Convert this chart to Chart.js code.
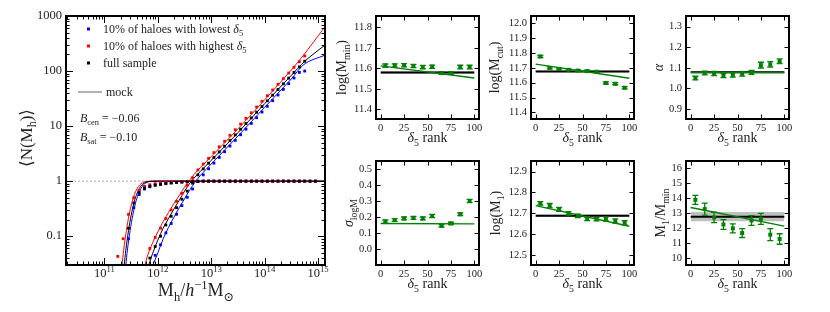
<!DOCTYPE html>
<html>
<head>
<meta charset="utf-8">
<script src="https://cdn.jsdelivr.net/npm/chart.js@4.4.1/dist/chart.umd.min.js"></script>
<style>
body { margin: 0; background: #fff; }
#wrap { position: relative; width: 830px; height: 312px; }
canvas { position: absolute; }
</style>
</head>
<body>
<div id="wrap"></div>
<script>
// ---- main panel: <N(M_h)> ----
const cenLogM = [11.25, 11.35, 11.45, 11.55, 11.65, 11.75, 11.85, 11.95, 12.05, 12.15,
    12.25, 12.35, 12.45, 12.55, 12.65, 12.75, 12.85, 12.95, 13.05, 13.15,
    13.25, 13.35, 13.45, 13.55, 13.65, 13.75, 13.85, 13.95, 14.05, 14.15,
    14.25, 14.35, 14.45, 14.55, 14.65, 14.75, 14.85, 14.95];
const cenHigh = [0.043, 0.09, 0.25, 0.5, 0.68, 0.8, 0.86, 0.9, 0.93, 0.95,
    0.965, 0.975, 0.985, 0.99, 1, 1, 1, 1, 1, 1,
    1, 1, 1, 1, 1, 1, 1, 1, 1, 1,
    1, 1, 1, 1, 1, 1, 1, 1];
const cenAll = [null, null, 0.14, 0.4, 0.62, 0.75, 0.81, 0.85, 0.88, 0.91,
    0.93, 0.95, 0.965, 0.975, 0.985, 0.99, 1, 1, 1, 1,
    1, 1, 1, 1, 1, 1, 1, 1, 1, 1,
    1, 1, 1, 1, 1, 1, 1, 1];
const cenLow = [null, null, 0.09, 0.33, 0.57, 0.72, 0.79, 0.84, 0.87, 0.9,
    0.93, 0.95, 0.96, 0.975, 0.985, 0.99, 1, 1, 1, 1,
    1, 1, 1, 1, 1, 1, 1, 1, 1, 1,
    1, 1, 1, 1, 1, 1, 1, 1];

const satLogM = [11.85, 11.95, 12.05, 12.15, 12.25, 12.35, 12.45, 12.55, 12.65, 12.75,
    12.85, 12.95, 13.05, 13.15, 13.25, 13.35, 13.45, 13.55, 13.65, 13.75,
    13.85, 13.95, 14.05, 14.15, 14.25, 14.35, 14.45, 14.55, 14.65, 14.75];
const satHigh = [0.06, 0.095, 0.14, 0.21, 0.3, 0.43, 0.6, 0.84, 1.15, 1.6,
    2.05, 2.6, 3.3, 4.2, 5.3, 6.8, 8.6, 10.9, 13.8, 17.5,
    22.2, 28.2, 35.7, 45.3, 57.4, 72.8, 92.3, 117, 148, 188];
const satAll = [0.04, 0.065, 0.1, 0.16, 0.23, 0.33, 0.47, 0.66, 0.92, 1.3,
    1.67, 2.12, 2.69, 3.4, 4.32, 5.47, 6.93, 8.79, 11.1, 14.1,
    17.9, 22.7, 28.8, 36.5, 46.2, 58.6, 74.3, 94.2, 119, 151];
const satLow = [null, 0.045, 0.07, 0.115, 0.17, 0.25, 0.36, 0.51, 0.72, 1.0,
    1.3, 1.68, 2.13, 2.7, 3.43, 4.34, 5.5, 6.97, 8.8, 11.2,
    14.2, 18, 22.9, 29, 36.7, 46.5, 59, 74.8, 94.5, 100];

// model curves
const cenFitAllM = [11.37, 11.40, 11.45, 11.50, 11.55, 11.60, 11.65, 11.70, 11.75, 11.80, 11.85, 11.90, 12.0, 15.13];
const cenFitAll = [0.03, 0.056, 0.126, 0.24, 0.395, 0.57, 0.73, 0.856, 0.933, 0.976, 0.992, 0.998, 1, 1];
const cenFitHighM = [11.33, 11.36, 11.41, 11.46, 11.51, 11.56, 11.61, 11.66, 11.71, 11.76, 11.81, 11.86, 11.96, 15.13];
const cenFitHigh = [0.03, 0.056, 0.126, 0.24, 0.395, 0.57, 0.73, 0.856, 0.933, 0.976, 0.992, 0.998, 1, 1];
const cenFitLowM = [11.40, 11.43, 11.48, 11.53, 11.58, 11.63, 11.68, 11.73, 11.78, 11.83, 11.88, 11.93, 12.03, 15.13];
const cenFitLow = [0.03, 0.056, 0.126, 0.24, 0.395, 0.57, 0.73, 0.856, 0.933, 0.976, 0.992, 0.998, 1, 1];

const satFitAllM = [11.83, 11.9, 12.0, 12.1, 12.2, 12.3, 12.4, 12.5, 12.6, 12.7, 12.8, 13.0, 13.5, 14.0, 14.5, 14.75, 15.13];
const satFitAll = [0.03, 0.048, 0.085, 0.14, 0.21, 0.31, 0.45, 0.66, 0.92, 1.2, 1.52, 2.39, 7.6, 25.6, 83.7, 150, 297];
const satFitHighM = [11.76, 11.8, 11.9, 12.0, 12.1, 12.2, 12.3, 12.4, 12.5, 12.6, 12.7, 12.8, 13.0, 13.5, 14.0, 14.5, 14.72, 15.13];
const satFitHigh = [0.03, 0.042, 0.075, 0.12, 0.185, 0.27, 0.39, 0.55, 0.78, 1.06, 1.4, 1.78, 2.8, 8.9, 30, 105, 190, 640];
const satFitLowM = [11.91, 12.0, 12.1, 12.2, 12.3, 12.4, 12.5, 12.6, 12.7, 12.8, 13.0, 13.5, 14.0, 14.5, 14.72, 15.13];
const satFitLow = [0.03, 0.05, 0.09, 0.145, 0.22, 0.33, 0.48, 0.70, 0.97, 1.28, 2.05, 6.6, 22, 72, 128, 195];

const mainXTicks = [11, 12, 13, 14, 15];
const mainYTicks = [0.1, 1, 10, 100, 1000];

// ---- small panels: HOD parameters vs delta_5 rank ----
const rank = [5, 15, 25, 35, 45, 55, 65, 75, 85, 95];
const rankTicks = [0, 25, 50, 75, 100];

const logMmin = [11.613, 11.614, 11.615, 11.611, 11.606, 11.608, 11.577, 11.577, 11.606, 11.606];
const logMminErr = [0.008, 0.008, 0.008, 0.008, 0.008, 0.008, 0.006, 0.006, 0.009, 0.009];
const logMcut = [11.777, 11.70, 11.693, 11.687, 11.682, 11.678, 11.674, 11.598, 11.593, 11.566];
const logMcutErr = [0.007, 0.007, 0.006, 0.006, 0.006, 0.006, 0.006, 0.007, 0.007, 0.008];
const alpha = [1.05, 1.075, 1.072, 1.062, 1.065, 1.07, 1.078, 1.113, 1.117, 1.132];
const alphaErr = [0.009, 0.009, 0.01, 0.01, 0.01, 0.01, 0.01, 0.014, 0.013, 0.011];
const sigma = [0.172, 0.182, 0.192, 0.195, 0.192, 0.207, 0.146, 0.161, 0.218, 0.301];
const sigmaErr = [0.01, 0.009, 0.009, 0.009, 0.009, 0.01, 0.008, 0.007, 0.008, 0.01];
const logM1 = [12.748, 12.737, 12.719, 12.70, 12.688, 12.673, 12.672, 12.673, 12.663, 12.655];
const logM1Err = [0.008, 0.01, 0.009, 0.008, 0.008, 0.008, 0.008, 0.01, 0.01, 0.01];
const ratio = [13.89, 13.27, 12.71, 12.24, 11.98, 11.67, 12.51, 12.62, 11.56, 11.27];
const ratioErr = [0.3, 0.4, 0.35, 0.33, 0.3, 0.3, 0.33, 0.37, 0.4, 0.35];

// linear fits (value at rank 0 and rank 100) and full-sample value with its band
const fitMmin = [11.612, 11.553];
const fitMcut = [11.725, 11.63];
const fitAlpha = [1.078, 1.078];
const fitSigma = [0.16, 0.158];
const fitM1 = [12.737, 12.638];
const fitRatio = [13.38, 12.13];
const refMmin = [11.58, 0.006];
const refMcut = [11.676, 0.006];
const refAlpha = [1.078, 0.006];
const refM1 = [12.688, 0.006];
const refRatio = [12.76, 0.31];

const FONT = '"Liberation Serif", "DejaVu Serif", serif';
const GREEN = '#008000';
const wrap = document.getElementById('wrap');

function pts(xs, ys) {
    return xs.map((x, i) => ({ x, y: ys[i] })).filter(p => p.y != null);
}

function makeCanvas(left, top, w, h) {
    const c = document.createElement('canvas');
    c.width = w;
    c.height = h;
    c.style.left = left + 'px';
    c.style.top = top + 'px';
    c.style.width = w + 'px';
    c.style.height = h + 'px';
    wrap.appendChild(c);
    return c;
}

// text with sub/superscripts: parts = [[text, mode(-1 sub, 1 sup), italic]]
function setFont(ctx, size, mode, it) {
    const s = mode ? size * 0.7 : size;
    ctx.font = (it ? 'italic ' : '') + s + 'px ' + FONT;
}
function richWidth(ctx, parts, size) {
    let w = 0;
    parts.forEach(p => {
        setFont(ctx, size, p[1], p[2]);
        w += ctx.measureText(p[0]).width;
    });
    return w;
}
function drawRich(ctx, parts, x, y, size, align) {
    const w = richWidth(ctx, parts, size);
    let cx = align === 'center' ? x - w / 2 : (align === 'right' ? x - w : x);
    ctx.textAlign = 'left';
    ctx.textBaseline = 'alphabetic';
    parts.forEach(p => {
        setFont(ctx, size, p[1], p[2]);
        const dy = p[1] === -1 ? size * 0.25 : (p[1] === 1 ? -size * 0.4 : 0);
        ctx.fillText(p[0], cx, y + dy);
        cx += ctx.measureText(p[0]).width;
    });
}
function drawRichRotated(ctx, parts, x, y, size) {
    ctx.save();
    ctx.translate(x, y);
    ctx.rotate(-Math.PI / 2);
    drawRich(ctx, parts, 0, 0, size, 'center');
    ctx.restore();
}

// inward ticks on all four sides + frame, error bars, extra text
function makeDeco(spec) {
    return {
        id: 'deco',
        beforeDatasetDraw(chart, args) {
            const ds = chart.data.datasets[args.index];
            if (!ds.errors) return;
            const { ctx } = chart;
            const ys = chart.scales.y;
            const meta = chart.getDatasetMeta(args.index);
            ctx.save();
            ctx.strokeStyle = ds.backgroundColor;
            ctx.lineWidth = 1.3;
            ctx.beginPath();
            meta.data.forEach((el, i) => {
                const v = ds.data[i].y;
                const e = ds.errors[i];
                const y0 = ys.getPixelForValue(v - e);
                const y1 = ys.getPixelForValue(v + e);
                ctx.moveTo(el.x, y0);
                ctx.lineTo(el.x, y1);
                ctx.moveTo(el.x - 3, y0);
                ctx.lineTo(el.x + 3, y0);
                ctx.moveTo(el.x - 3, y1);
                ctx.lineTo(el.x + 3, y1);
            });
            ctx.stroke();
            ctx.restore();
        },
        afterDraw(chart) {
            const { ctx, chartArea: a } = chart;
            const xs = chart.scales.x;
            const ys = chart.scales.y;
            ctx.save();
            ctx.strokeStyle = '#000';
            ctx.lineWidth = 1;
            ctx.beginPath();
            const xt = (vals, len) => vals.forEach(v => {
                const px = Math.round(xs.getPixelForValue(v)) + 0.5;
                if (px < a.left + 1 || px > a.right - 1) return;
                ctx.moveTo(px, a.bottom);
                ctx.lineTo(px, a.bottom - len);
                ctx.moveTo(px, a.top);
                ctx.lineTo(px, a.top + len);
            });
            const yt = (vals, len) => vals.forEach(v => {
                const py = Math.round(ys.getPixelForValue(v)) + 0.5;
                if (py < a.top + 1 || py > a.bottom - 1) return;
                ctx.moveTo(a.left, py);
                ctx.lineTo(a.left + len, py);
                ctx.moveTo(a.right, py);
                ctx.lineTo(a.right - len, py);
            });
            xt(spec.xMajor, spec.majLen);
            yt(spec.yMajor, spec.majLen);
            xt(spec.xMinor || [], spec.minLen);
            yt(spec.yMinor || [], spec.minLen);
            ctx.stroke();
            ctx.lineWidth = 2;
            ctx.strokeRect(a.left, a.top, a.right - a.left, a.bottom - a.top);
            ctx.fillStyle = '#222';
            if (spec.text) spec.text(chart, ctx, a);
            ctx.restore();
        }
    };
}

function setupChart(canvas, plot, datasets, xOpt, yOpt, spec) {
    const box = {
        left: parseFloat(canvas.style.left),
        top: parseFloat(canvas.style.top),
        w: canvas.width,
        h: canvas.height
    };
    return new Chart(canvas, {
        type: 'scatter',
        data: { datasets },
        options: {
            responsive: false,
            animation: false,
            events: [],
            layout: {
                autoPadding: false,
                padding: {
                    left: 0,
                    bottom: 0,
                    top: plot.top - box.top,
                    right: box.left + box.w - plot.right
                }
            },
            plugins: { legend: { display: false }, tooltip: { enabled: false } },
            scales: {
                x: Object.assign({
                    grid: { display: false, drawTicks: false },
                    border: { display: false },
                    afterFit: s => { s.height = box.top + box.h - plot.bottom; }
                }, xOpt),
                y: Object.assign({
                    grid: { display: false, drawTicks: false },
                    border: { display: false },
                    afterFit: s => { s.width = plot.left - box.left; }
                }, yOpt)
            }
        },
        plugins: [makeDeco(spec)]
    });
}

// ---------- main panel ----------
function logMinor(lo, hi) {
    const out = [];
    for (let n = lo; n <= hi; n++) {
        for (let k = 2; k <= 9; k++) out.push(n + Math.log10(k));
    }
    return out;
}
function linMinor(lo, hi) {
    const out = [];
    for (let n = lo; n <= hi; n++) {
        for (let k = 2; k <= 9; k++) out.push(k * Math.pow(10, n));
    }
    return out;
}

const mainCanvas = makeCanvas(0, 0, 335, 312);
const mainPlot = { left: 66, top: 16, right: 325, bottom: 265 };

function dots(xs, ys, color) {
    return { data: pts(xs, ys), pointStyle: 'rect', pointRadius: 2,
        backgroundColor: color, borderWidth: 0, showLine: false };
}
function curve(xs, ys, color) {
    return { data: pts(xs, ys), showLine: true, pointRadius: 0, borderColor: color,
        borderWidth: 1, cubicInterpolationMode: 'monotone', fill: false };
}

setupChart(mainCanvas, mainPlot, [
    dots(satLogM, satAll, '#000'),
    dots(cenLogM, cenAll, '#000'),
    dots(satLogM, satHigh, '#ff0000'),
    dots(cenLogM, cenHigh, '#ff0000'),
    dots(satLogM, satLow, '#0000ff'),
    dots(cenLogM, cenLow, '#0000ff'),
    curve(satFitAllM, satFitAll, '#000'),
    curve(cenFitAllM, cenFitAll, '#000'),
    curve(satFitHighM, satFitHigh, '#ff0000'),
    curve(cenFitHighM, cenFitHigh, '#ff0000'),
    curve(satFitLowM, satFitLow, '#0000ff'),
    curve(cenFitLowM, cenFitLow, '#0000ff'),
    { data: [{ x: 10.28, y: 1 }, { x: 15.13, y: 1 }], showLine: true, pointRadius: 0,
        borderColor: '#aaa', borderWidth: 1, borderDash: [2, 2] }
], {
    type: 'linear', min: 10.28, max: 15.13,
    ticks: { display: false },
    afterBuildTicks: s => { s.ticks = mainXTicks.map(v => ({ value: v })); }
}, {
    type: 'logarithmic', min: 0.03, max: 1000,
    ticks: { font: { family: FONT, size: 12.5 }, color: '#222', padding: 4,
        autoSkip: false, callback: v => String(v) },
    afterBuildTicks: s => { s.ticks = mainYTicks.map(v => ({ value: v })); }
}, {
    xMajor: mainXTicks, yMajor: mainYTicks,
    xMinor: logMinor(10, 15), yMinor: linMinor(-2, 2),
    majLen: 7, minLen: 3.5,
    text(chart, ctx, a) {
        const xs = chart.scales.x;
        mainXTicks.forEach(v => {
            drawRich(ctx, [['10', 0], [String(v), 1]], xs.getPixelForValue(v), a.bottom + 12, 12.5, 'center');
        });
        drawRich(ctx, [['M', 0], ['h', -1], ['/', 0], ['h', 0, true], ['\u22121', 1], ['M', 0], ['\u2299', -1]],
            196, 296, 18, 'center');
        drawRichRotated(ctx, [['\u27E8N(M', 0], ['h', -1], [')\u27E9', 0]], 32, 138, 17);
        // legend
        const rows = [
            ['#0000ff', [['10% of haloes with lowest ', 0], ['\u03B4', 0, true], ['5', -1]]],
            ['#ff0000', [['10% of haloes with highest ', 0], ['\u03B4', 0, true], ['5', -1]]],
            ['#000', [['full sample', 0]]]
        ];
        rows.forEach((r, i) => {
            const y = 29 + i * 17;
            ctx.fillStyle = r[0];
            ctx.fillRect(87, y - 1.5, 3, 3);
            ctx.fillStyle = '#222';
            drawRich(ctx, r[1], 103, y + 4, 12, 'left');
        });
        ctx.strokeStyle = '#999';
        ctx.lineWidth = 1.5;
        ctx.beginPath();
        ctx.moveTo(78, 92);
        ctx.lineTo(102, 92);
        ctx.stroke();
        drawRich(ctx, [['mock', 0]], 106, 96, 12, 'left');
        drawRich(ctx, [['B', 0, true], ['cen', -1], [' = \u22120.06', 0]], 80, 122, 12, 'left');
        drawRich(ctx, [['B', 0, true], ['sat', -1], [' = \u22120.10', 0]], 80, 141, 12, 'left');
    }
});

// ---------- small panels ----------
const rankLabel = [['\u03B4', 0, true], ['5', -1], [' rank', 0]];

function smallPanel(plot, vals, errs, fit, ref, yMin, yMax, yTicks, digits, title, titleOff) {
    const c = makeCanvas(plot.left - 50, plot.top < 100 ? 0 : 150, 163, plot.top < 100 ? 150 : 162);
    const sets = [
        { data: pts(rank, vals), errors: errs, pointStyle: 'rect', pointRadius: 2.8,
            backgroundColor: GREEN, borderWidth: 0, showLine: false },
        { data: [{ x: 0, y: fit[0] }, { x: 100, y: fit[1] }], showLine: true, pointRadius: 0,
            borderColor: GREEN, borderWidth: 1.4 }
    ];
    if (ref) {
        sets.push({ data: [{ x: 0, y: ref[0] }, { x: 100, y: ref[0] }], showLine: true, pointRadius: 0,
            borderColor: '#000', borderWidth: 2 });
        sets.push({ data: [{ x: 0, y: ref[0] + ref[1] }, { x: 100, y: ref[0] + ref[1] }], showLine: true,
            pointRadius: 0, borderWidth: 0, borderColor: 'rgba(0,0,0,0)',
            backgroundColor: 'rgba(0,0,0,0.25)', fill: { value: ref[0] - ref[1] } });
    }
    setupChart(c, plot, sets, {
        type: 'linear', min: -5, max: 105,
        ticks: { font: { family: FONT, size: 10.5 }, color: '#222', padding: 3,
            autoSkip: false, maxRotation: 0, callback: v => String(v) },
        afterBuildTicks: s => { s.ticks = rankTicks.map(v => ({ value: v })); }
    }, {
        type: 'linear', min: yMin, max: yMax,
        ticks: { font: { family: FONT, size: 10.5 }, color: '#222', padding: 4,
            autoSkip: false, callback: v => v.toFixed(digits) },
        afterBuildTicks: s => { s.ticks = yTicks.map(v => ({ value: v })); }
    }, {
        xMajor: rankTicks, yMajor: yTicks, majLen: 4.5, minLen: 2.5,
        text(chart, ctx, a) {
            drawRich(ctx, rankLabel, (a.left + a.right) / 2, a.bottom + 23, 14, 'center');
            drawRichRotated(ctx, title, a.left - titleOff, (a.top + a.bottom) / 2, 14);
        }
    });
}

smallPanel({ left: 376, top: 16, right: 479, bottom: 119 }, logMmin, logMminErr, fitMmin, refMmin,
    11.353, 11.855, [11.4, 11.5, 11.6, 11.7, 11.8], 1,
    [['log(M', 0], ['min', -1], [')', 0]], 30);
smallPanel({ left: 531, top: 16, right: 634, bottom: 119 }, logMcut, logMcutErr, fitMcut, refMcut,
    11.355, 12.05, [11.4, 11.5, 11.6, 11.7, 11.8, 11.9, 12.0], 1,
    [['log(M', 0], ['cut', -1], [')', 0]], 32);
smallPanel({ left: 686, top: 16, right: 789, bottom: 119 }, alpha, alphaErr, fitAlpha, refAlpha,
    0.851, 1.352, [0.9, 1.0, 1.1, 1.2, 1.3], 1,
    [['\u03B1', 0, true]], 23);
smallPanel({ left: 376, top: 161, right: 479, bottom: 265 }, sigma, sigmaErr, fitSigma, null,
    -0.1, 0.552, [0.0, 0.1, 0.2, 0.3, 0.4, 0.5], 1,
    [['\u03C3', 0, true], ['logM', -1]], 23);
smallPanel({ left: 531, top: 161, right: 634, bottom: 265 }, logM1, logM1Err, fitM1, refM1,
    12.452, 12.951, [12.5, 12.6, 12.7, 12.8, 12.9], 1,
    [['log(M', 0], ['1', -1], [')', 0]], 31);
smallPanel({ left: 686, top: 161, right: 789, bottom: 265 }, ratio, ratioErr, fitRatio, refRatio,
    9.53, 16.49, [10, 11, 12, 13, 14, 15, 16], 0,
    [['M', 0], ['1', -1], ['/M', 0], ['min', -1]], 21);
</script>
</body>
</html>
